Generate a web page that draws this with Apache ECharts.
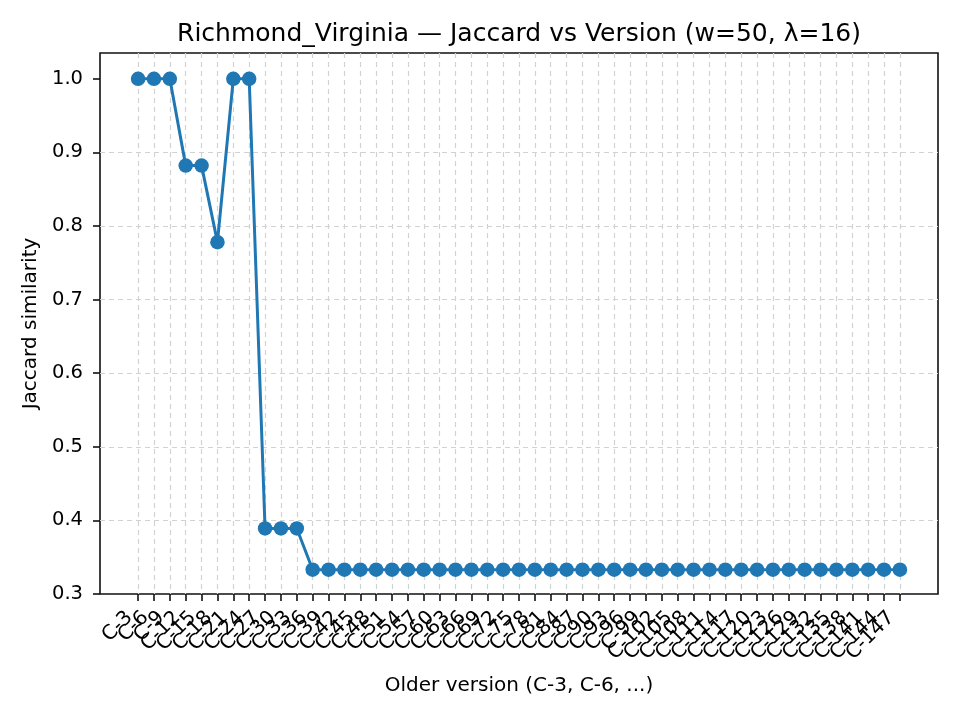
<!DOCTYPE html>
<html lang="en">
<head>
    <meta charset="UTF-8">
    <title>Jaccard vs Version</title>
    <style>
        *{
            margin: 0;
            padding: 0;
        }
        body{
            background: #fff;
        }
    </style>
</head>
<body>
<div id="main" style="width: 960px;height:720px;"></div>
<script src="https://cdn.jsdelivr.net/npm/echarts@6/dist/echarts.min.js"></script>
<script type="text/javascript">
    // categories: C-3, C-6, ... C-147
    var versions = ['C-3','C-6','C-9','C-12','C-15','C-18','C-21','C-24','C-27','C-30',
        'C-33','C-36','C-39','C-42','C-45','C-48','C-51','C-54','C-57','C-60',
        'C-63','C-66','C-69','C-72','C-75','C-78','C-81','C-84','C-87','C-90',
        'C-93','C-96','C-99','C-102','C-105','C-108','C-111','C-114','C-117','C-120',
        'C-123','C-126','C-129','C-132','C-135','C-138','C-141','C-144','C-147'];
    var jaccard = [1.0, 1.0, 1.0, 0.882, 0.882, 0.778, 1.0, 1.0, 0.389, 0.389,
        0.389, 0.333, 0.333, 0.333, 0.333, 0.333, 0.333, 0.333, 0.333, 0.333,
        0.333, 0.333, 0.333, 0.333, 0.333, 0.333, 0.333, 0.333, 0.333, 0.333,
        0.333, 0.333, 0.333, 0.333, 0.333, 0.333, 0.333, 0.333, 0.333, 0.333,
        0.333, 0.333, 0.333, 0.333, 0.333, 0.333, 0.333, 0.333, 0.333];
    var yTicks = [0.3, 0.4, 0.5, 0.6, 0.7, 0.8, 0.9, 1.0];

    var font = 'DejaVu Sans';
    var yMin = 0.3, yMax = 1.035;

    // outer frame 100..938 px; matplotlib pads x by 5% of the data span on each side
    var frameLeft = 100, frameRight = 22, plotW = 838;
    var n = versions.length;
    var padPx = plotW * (0.05 * (n - 1)) / ((n - 1) * 1.1);

    var dash = {color: '#d2d2d2', type: [5, 4], width: 1.2};
    var black = {color: '#111', width: 1.6};

    var myChart = echarts.init(document.getElementById('main'));
    myChart.setOption({
        animation: false,
        title: {
            text: 'Richmond_Virginia — Jaccard vs Version (w=50, λ=16)',
            left: 514,
            top: 17,
            textAlign: 'center',
            textStyle: {
                fontFamily: font,
                fontSize: 25,
                fontWeight: 'normal',
                color: '#000'
            }
        },
        grid: [
            {
                left: frameLeft, right: frameRight, top: 53, bottom: 126,
                show: true, borderColor: '#111', borderWidth: 1.6,
                backgroundColor: 'transparent'
            },
            {
                left: frameLeft + padPx, right: frameRight + padPx, top: 53, bottom: 126
            }
        ],
        xAxis: [
            {
                gridIndex: 0,
                type: 'value',
                min: 0, max: 1,
                axisLine: {show: false},
                axisTick: {show: false},
                axisLabel: {show: false},
                splitLine: {show: false}
            },
            {
                gridIndex: 1,
                type: 'category',
                data: versions,
                boundaryGap: false,
                name: 'Older version (C-3, C-6, ...)',
                nameLocation: 'middle',
                nameGap: 82,
                nameTextStyle: {fontFamily: font, fontSize: 20, color: '#000'},
                axisLine: {show: false, onZero: false},
                axisTick: {
                    show: true,
                    interval: 0,
                    length: 7,
                    lineStyle: black
                },
                axisLabel: {
                    interval: 0,
                    rotate: 45,
                    margin: 12,
                    padding: [0, 12, 0, 0],
                    fontFamily: font,
                    fontSize: 20,
                    color: '#000'
                },
                splitLine: {show: true, interval: 0, lineStyle: dash}
            }
        ],
        yAxis: [
            {
                gridIndex: 0,
                type: 'value',
                min: yMin,
                max: yMax,
                name: 'Jaccard similarity',
                nameLocation: 'middle',
                nameGap: 58,
                nameTextStyle: {fontFamily: font, fontSize: 20, color: '#000'},
                axisLine: {show: false, onZero: false},
                axisTick: {
                    show: true,
                    customValues: yTicks,
                    length: 7,
                    lineStyle: black
                },
                axisLabel: {
                    customValues: yTicks,
                    margin: 17,
                    fontFamily: font,
                    fontSize: 19.5,
                    color: '#000',
                    formatter: function(value){
                        return value.toFixed(1);
                    }
                },
                splitLine: {show: true, showMinLine: false, showMaxLine: false, lineStyle: dash}
            },
            {
                gridIndex: 1,
                type: 'value',
                min: yMin,
                max: yMax,
                show: false
            }
        ],
        series: [
            {
                type: 'line',
                xAxisIndex: 1,
                yAxisIndex: 1,
                data: jaccard,
                color: '#1f77b4',
                symbol: 'circle',
                symbolSize: 14.5,
                lineStyle: {width: 3, color: '#1f77b4'},
                itemStyle: {color: '#1f77b4'}
            }
        ]
    });
</script>
</body>
</html>
